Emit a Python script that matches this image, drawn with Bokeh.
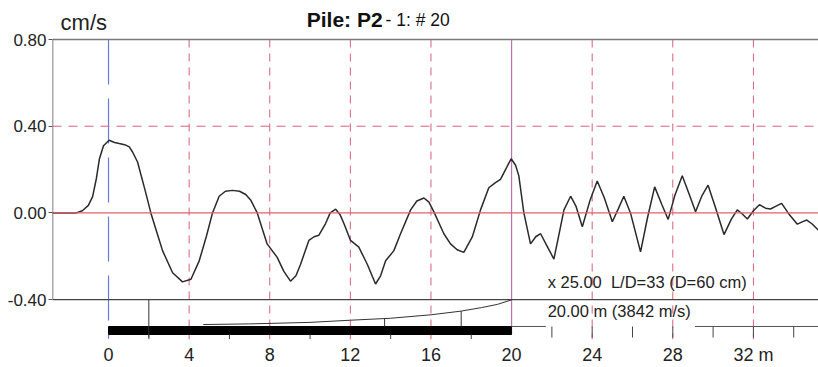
from bokeh.plotting import figure
from bokeh.models import Range1d, FixedTicker, Span, Label, NumeralTickFormatter
from bokeh.embed import file_html
from bokeh.resources import INLINE

FONT = "Liberation Sans"

# ---- data ----
depth = [-2.78, -1.6, -1.3, -1.0, -0.79, -0.6, -0.45, -0.25, 0.03, 0.3, 0.53, 0.8, 1.03, 1.2, 1.44,
         1.8, 2.1, 2.4, 2.68, 3.18, 3.67, 4.09, 4.5, 4.85, 5.16, 5.49, 5.8, 6.15, 6.5, 6.81, 7.05,
         7.38, 7.87, 8.37, 8.7, 9.03, 9.3, 9.53, 9.94, 10.2, 10.44, 10.77, 11.0, 11.27, 11.5, 11.68,
         12.01, 12.42, 12.84, 13.25, 13.5, 13.75, 14.16, 14.49, 14.99, 15.3, 15.65, 15.9, 16.14,
         16.64, 16.97, 17.3, 17.63, 18.05, 18.46, 18.87, 19.2, 19.45, 19.7, 19.98, 20.2, 20.36,
         20.61, 20.94, 21.2, 21.44, 21.8, 22.1, 22.35, 22.6, 22.93, 23.2, 23.51, 23.9, 24.25, 24.6,
         25.0, 25.3, 25.57, 25.9, 26.4, 26.75, 27.1, 27.45, 27.77, 28.1, 28.47, 28.8, 29.13, 29.45,
         29.75, 30.1, 30.54, 30.9, 31.2, 31.45, 31.7, 32.0, 32.3, 32.6, 32.85, 33.1, 33.4, 33.8,
         34.18, 34.45, 34.65, 34.9, 35.23]
velocity = [0.0, 0.0, 0.01, 0.035, 0.075, 0.16, 0.25, 0.31, 0.335, 0.325, 0.32, 0.315, 0.305, 0.28, 0.235,
            0.11, 0.0, -0.09, -0.174, -0.276, -0.318, -0.306, -0.221, -0.11, 0.0, 0.077, 0.1, 0.104, 0.1,
            0.085, 0.06, 0.0, -0.143, -0.205, -0.27, -0.315, -0.29, -0.237, -0.127, -0.11, -0.103, -0.049,
            0.0, 0.017, -0.01, -0.049, -0.127, -0.158, -0.237, -0.328, -0.29, -0.221, -0.174, -0.096,
            0.014, 0.055, 0.069, 0.05, 0.006, -0.096, -0.143, -0.17, -0.182, -0.111, 0.014, 0.116, 0.14,
            0.155, 0.2, 0.25, 0.22, 0.171, 0.0, -0.143, -0.11, -0.096, -0.16, -0.213, -0.1, 0.014, 0.077,
            0.03, -0.064, 0.06, 0.147, 0.07, -0.041, 0.02, 0.077, 0.0, -0.18, -0.02, 0.12, 0.04, -0.03,
            0.08, 0.171, 0.09, 0.005, 0.08, 0.128, 0.03, -0.1, -0.03, 0.014, -0.005, -0.028, 0.01, 0.038,
            0.022, 0.018, 0.03, 0.044, -0.01, -0.052, -0.04, -0.033, -0.05, -0.08]

# pile profile (lower strip)
profile_x = [4.7, 7.0, 10.0, 12.0, 14.0, 16.0, 17.5, 18.5, 19.3, 20.0]
profile_y = [-0.515, -0.512, -0.505, -0.495, -0.486, -0.470, -0.453, -0.437, -0.422, -0.401]
pile_start, pile_toe = 0.0, 20.0
bar_bottom, bar_top = -0.561, -0.524
marker_x = [2.0, 13.7, 17.5]
marker_top = [-0.399, -0.486, -0.453]
under_ticks = [2, 6, 10, 14, 18]
ruler_ticks = [22, 24, 26, 28, 30, 32, 34]

x_ticks = [0, 4, 8, 12, 16, 20, 24, 28, 32]
x_labels = {32: "32 m"}
y_ticks = [0.8, 0.4, 0.0, -0.4]
grid_x = [4, 8, 12, 16, 24, 28, 32]

XMIN, XMAX = -2.78, 35.23
YMIN, YMAX = -0.584, 0.98
YTOP, YBOT = 0.8, -0.4

p = figure(width=818, height=367, output_backend="svg", toolbar_location=None,
           x_range=Range1d(XMIN, XMAX), y_range=Range1d(YMIN, YMAX),
           min_border_left=52, min_border_right=0, min_border_top=0, min_border_bottom=26)
p.outline_line_color = None
p.grid.visible = False
p.background_fill_color = "white"
p.border_fill_color = "white"

# axes
p.xaxis.ticker = FixedTicker(ticks=x_ticks)
p.xaxis.major_label_overrides = x_labels
p.xaxis.axis_line_color = None
p.xaxis.major_tick_line_color = None
p.xaxis.major_tick_out = 0
p.xaxis.major_tick_in = 0
p.xaxis.minor_tick_line_color = None
p.xaxis.minor_tick_out = 0
p.xaxis.major_label_standoff = 5
p.xaxis.major_label_text_font = FONT
p.xaxis.major_label_text_font_size = "18px"
p.xaxis.major_label_text_color = "#222222"

p.yaxis.ticker = FixedTicker(ticks=y_ticks)
p.yaxis.formatter = NumeralTickFormatter(format="0.00")
p.yaxis.axis_line_color = None
p.yaxis.major_tick_line_color = "#555555"
p.yaxis.major_tick_out = 4
p.yaxis.major_tick_in = 0
p.yaxis.minor_tick_line_color = None
p.yaxis.major_label_standoff = 2
p.yaxis.major_label_text_font = FONT
p.yaxis.major_label_text_font_size = "17px"
p.yaxis.major_label_text_color = "#222222"

# grid lines
p.segment(x0=grid_x, y0=[YTOP] * len(grid_x), x1=grid_x, y1=[YMIN] * len(grid_x),
          line_color="#d8607a", line_dash="8 6", line_width=1)
p.add_layout(Span(location=0.4, dimension="width", line_color="#d8607a",
                  line_dash="9 7", line_width=1))
p.add_layout(Span(location=0.0, dimension="width", line_color="#e0606a", line_width=1.2))
p.segment(x0=[pile_start], y0=[YTOP], x1=[pile_start], y1=[-0.58], line_color="#6a78e0",
          line_dash="45 14", line_width=1.2)
# toe line
p.segment(x0=[pile_toe], y0=[bar_top], x1=[pile_toe], y1=[YTOP], line_color="#c070b0", line_width=1.2)

# frame borders
p.segment(x0=[XMIN], y0=[YTOP], x1=[XMAX], y1=[YTOP], line_color="#7a7a7a", line_width=1.5)
p.segment(x0=[XMIN], y0=[YBOT], x1=[XMAX], y1=[YBOT], line_color="#444444", line_width=1.2)
p.segment(x0=[XMIN], y0=[YBOT], x1=[XMIN], y1=[YTOP], line_color="#555555", line_width=1.5)

# lower strip: pile bar, profile, ticks
p.quad(left=[pile_start], right=[pile_toe], bottom=[bar_bottom], top=[bar_top],
       fill_color="black", line_color="black")
p.line(profile_x, profile_y, line_color="#333333", line_width=1)
p.segment(x0=marker_x, y0=marker_top, x1=marker_x, y1=[-0.575, bar_top, bar_top],
          line_color="#333333", line_width=1)
p.segment(x0=under_ticks, y0=[bar_bottom] * len(under_ticks), x1=under_ticks,
          y1=[-0.582] * len(under_ticks), line_color="#444444", line_width=1)
p.segment(x0=ruler_ticks, y0=[bar_top] * len(ruler_ticks), x1=ruler_ticks,
          y1=[-0.575] * len(ruler_ticks), line_color="#444444", line_width=1)
p.segment(x0=[pile_toe, 29.1], y0=[bar_top, bar_top], x1=[21.7, XMAX], y1=[bar_top, bar_top],
          line_color="#555555", line_width=1)

# velocity trace
p.line(depth, velocity, line_color="#2a2a2a", line_width=1.5)

# texts
p.add_layout(Label(x=13.6, y=0.892, text="Pile: P2", text_font=FONT, text_font_style="bold",
                   text_font_size="21px", text_align="right", text_baseline="middle",
                   text_color="#111111"))
p.add_layout(Label(x=13.75, y=0.888, text="- 1: # 20", text_font=FONT, text_font_size="17.5px",
                   text_align="left", text_baseline="middle", text_color="#111111"))
p.add_layout(Label(x=-2.38, y=0.879, text="cm/s", text_font=FONT, text_font_size="22px",
                   text_align="left", text_baseline="middle", text_color="#222222"))
p.add_layout(Label(x=21.79, y=-0.319, text="x 25.00\u00a0 L/D=33 (D=60 cm)", text_font=FONT,
                   text_font_size="16.5px", text_align="left", text_baseline="middle",
                   text_color="#222222"))
p.add_layout(Label(x=21.79, y=-0.453, text="20.00 m (3842 m/s)", text_font=FONT,
                   text_font_size="16.5px", text_align="left", text_baseline="middle",
                   text_color="#222222"))

open("out.html", "w").write(file_html(p, INLINE))
